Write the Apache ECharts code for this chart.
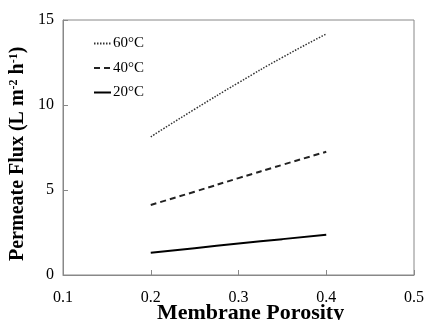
<!DOCTYPE html>
<html>
<head>
<meta charset="utf-8">
<script src="https://cdn.jsdelivr.net/npm/echarts@6/dist/echarts.min.js"></script>
<style>html,body{margin:0;padding:0;background:#fff}#c{width:427px;height:320px}</style>
</head>
<body>
<div id="c"></div>
<script>
var porosity = [0.2, 0.25, 0.3, 0.35, 0.4];
var flux60 = [8.13, 9.75, 11.31, 12.8, 14.18];
var flux40 = [4.12, 4.9, 5.7, 6.48, 7.25];
var flux20 = [1.31, 1.58, 1.85, 2.11, 2.37];
var seriesNames = ['60°C', '40°C', '20°C'];
var xTicks = [0.1, 0.2, 0.3, 0.4, 0.5];
var yTicks = [0, 5, 10, 15];

function pairs(xs, ys) { return xs.map(function (x, i) { return [x, ys[i]]; }); }

var font = '"Liberation Serif", "Times New Roman", serif';
var chart = echarts.init(document.getElementById('c'));
chart.setOption({
  animation: false,
  grid: { left: 63, right: 11, top: 20, bottom: 45, show: true, borderColor: '#888', borderWidth: 1, backgroundColor: 'transparent' },
  legend: {
    orient: 'vertical', left: 88, top: 31, itemWidth: 17, itemHeight: 12, itemGap: 9.5,
    textStyle: { fontFamily: font, fontSize: 15, color: '#000', padding: [0, 0, 0, -3] },
    itemStyle: { opacity: 0 },
    data: seriesNames
  },
  xAxis: {
    type: 'value', min: xTicks[0], max: xTicks[xTicks.length - 1], interval: 0.1,
    axisLine: { lineStyle: { color: '#888', width: 1 } },
    axisTick: { inside: true, length: 5, lineStyle: { color: '#888' } },
    splitLine: { show: false },
    axisLabel: { fontFamily: font, fontSize: 16, color: '#000', margin: 15, formatter: function (v) { return v.toFixed(1); } }
  },
  yAxis: {
    type: 'value', min: yTicks[0], max: yTicks[yTicks.length - 1], interval: 5,
    axisLine: { show: true, lineStyle: { color: '#888', width: 1 } },
    axisTick: { show: true, inside: true, length: 5, lineStyle: { color: '#888' } },
    splitLine: { show: false },
    axisLabel: { fontFamily: font, fontSize: 16, color: '#000', margin: 9 }
  },
  graphic: [
    {
      type: 'text', left: 157, top: 302,
      style: { text: 'Membrane Porosity', font: 'bold 22px ' + font, fill: '#000' }
    },
    {
      type: 'text', x: 8, y: 261, rotation: Math.PI / 2,
      style: {
        text: '{a|Permeate Flux (L m}{s|-2}{a| h}{s|-1}{a|)}',
        rich: {
          a: { font: 'bold 20px ' + font, fill: '#000' },
          s: { font: 'bold 12px ' + font, fill: '#000', verticalAlign: 'top', padding: [0, 0, 8, 0] }
        }
      }
    }
  ],
  series: [
    { name: seriesNames[0], type: 'line', data: pairs(porosity, flux60), smooth: true, symbol: 'none',
      lineStyle: { color: '#333', width: 1.5, type: [1.5, 1.5] }, itemStyle: { color: '#333' } },
    { name: seriesNames[1], type: 'line', data: pairs(porosity, flux40), smooth: true, symbol: 'none',
      lineStyle: { color: '#222', width: 2, type: [6, 4] }, itemStyle: { color: '#222' } },
    { name: seriesNames[2], type: 'line', data: pairs(porosity, flux20), smooth: true, symbol: 'none',
      lineStyle: { color: '#000', width: 2, type: 'solid' }, itemStyle: { color: '#000' } }
  ]
});
</script>
</body>
</html>
